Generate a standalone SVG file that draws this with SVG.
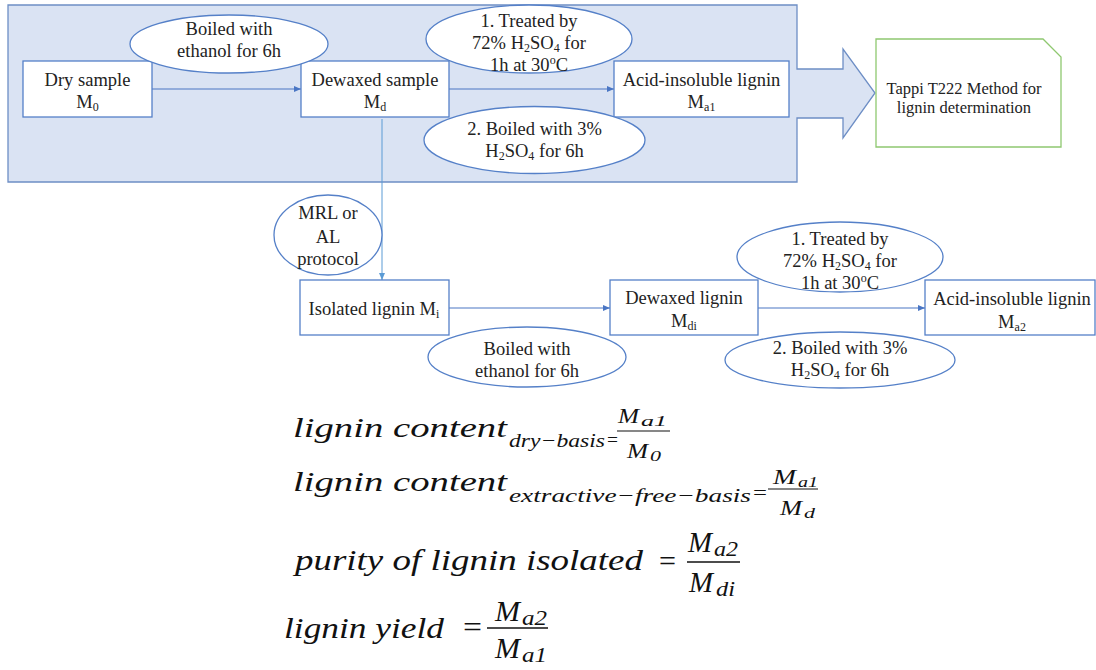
<svg xmlns="http://www.w3.org/2000/svg" width="1096" height="670" viewBox="0 0 1096 670">
<style>
.box{fill:#fff;stroke:#5580c8;stroke-width:1.3}
.ell{fill:#fff;stroke:#5580c8;stroke-width:1.3}
.t{font-family:"Liberation Serif","Times New Roman",serif;font-size:18.5px;fill:#222;text-anchor:middle}
.s{font-size:12px}
.conn{stroke:#4a76c4;stroke-width:1.2;fill:none}
.f{font-family:"Liberation Serif","Times New Roman",serif;font-style:italic;fill:#111}
.eq{font-family:"Liberation Serif","Times New Roman",serif;fill:#111}
.bar{stroke:#111}
</style>
<defs>
<marker id="ah" markerUnits="userSpaceOnUse" markerWidth="8" markerHeight="7" refX="7" refY="3" orient="auto">
<path d="M0,0 L7,3 L0,6 z" fill="#4a76c4"/>
</marker>
<marker id="ah2" markerUnits="userSpaceOnUse" markerWidth="8" markerHeight="7" refX="7" refY="3" orient="auto">
<path d="M0,0 L7,3 L0,6 z" fill="#5b9bd5"/>
</marker>
</defs>

<g id="panel">
<path d="M8,5 H797 V69 H843 V49 L875,93 L843,138 V118 H797 V182 H8 Z" fill="#dae3f3" stroke="#6d8ec5" stroke-width="1.3"/>
</g>

<g id="connectors">
<line class="conn" x1="152" y1="89" x2="301" y2="89" marker-end="url(#ah)"/>
<line class="conn" x1="449" y1="89" x2="614" y2="89" marker-end="url(#ah)"/>
<line x1="382" y1="119" x2="382" y2="280" stroke="#5b9bd5" stroke-width="1" marker-end="url(#ah2)"/>
<line class="conn" x1="449" y1="308" x2="610" y2="308" marker-end="url(#ah)"/>
<line class="conn" x1="758" y1="308" x2="925" y2="308" marker-end="url(#ah)"/>
</g>

<g id="tappi">
<path d="M876,39 H1043 L1061,57 V147 H876 Z" fill="#fff" stroke="#8fc870" stroke-width="1.3"/>
<text class="t" x="964" y="94" style="font-size:16.5px">Tappi T222 Method for</text>
<text class="t" x="964" y="113" style="font-size:16.5px">lignin determination</text>
</g>

<g id="dry-sample">
<rect class="box" x="23" y="61" width="129" height="56"/>
<text class="t" x="87.5" y="86">Dry sample</text>
<text class="t" x="87.5" y="108">M<tspan class="s" dy="3">0</tspan></text>
</g>

<g id="dewaxed-sample">
<rect class="box" x="301" y="61" width="148" height="56"/>
<text class="t" x="375" y="86">Dewaxed sample</text>
<text class="t" x="375" y="108">M<tspan class="s" dy="3">d</tspan></text>
</g>

<g id="acid-insoluble-1">
<rect class="box" x="614" y="61" width="175" height="56"/>
<text class="t" x="701.5" y="86">Acid-insoluble lignin</text>
<text class="t" x="701.5" y="108">M<tspan class="s" dy="3">a1</tspan></text>
</g>

<g id="ell-ethanol-1">
<ellipse class="ell" cx="229" cy="44" rx="99" ry="29"/>
<text class="t" x="229" y="35">Boiled with</text>
<text class="t" x="229" y="57">ethanol for 6h</text>
</g>

<g id="ell-treated-1">
<ellipse class="ell" cx="529" cy="39" rx="103" ry="34"/>
<text class="t" x="529" y="27">1. Treated by</text>
<text class="t" x="529" y="48.5">72% H<tspan class="s" dy="3">2</tspan><tspan dy="-3">SO</tspan><tspan class="s" dy="3">4</tspan><tspan dy="-3"> for</tspan></text>
<text class="t" x="529" y="71">1h at 30<tspan class="s" dy="-7">o</tspan><tspan dy="7">C</tspan></text>
</g>

<g id="ell-boiled-1">
<ellipse class="ell" cx="534.5" cy="140" rx="110.5" ry="33.5"/>
<text class="t" x="534.5" y="135">2. Boiled with 3%</text>
<text class="t" x="534.5" y="157">H<tspan class="s" dy="3">2</tspan><tspan dy="-3">SO</tspan><tspan class="s" dy="3">4</tspan><tspan dy="-3"> for 6h</tspan></text>
</g>

<g id="ell-protocol">
<ellipse class="ell" cx="328" cy="235" rx="54" ry="40"/>
<text class="t" x="328" y="219">MRL or</text>
<text class="t" x="328" y="243">AL</text>
<text class="t" x="328" y="265">protocol</text>
</g>

<g id="isolated-lignin">
<rect class="box" x="300" y="280" width="149" height="55"/>
<text class="t" x="374" y="315">Isolated lignin M<tspan class="s" dy="3">i</tspan></text>
</g>

<g id="dewaxed-lignin">
<rect class="box" x="610" y="280" width="148" height="55"/>
<text class="t" x="684" y="304">Dewaxed lignin</text>
<text class="t" x="684" y="327">M<tspan class="s" dy="3">di</tspan></text>
</g>

<g id="acid-insoluble-2">
<rect class="box" x="925" y="280" width="170" height="55"/>
<text class="t" x="1012" y="305">Acid-insoluble lignin</text>
<text class="t" x="1012" y="328">M<tspan class="s" dy="3">a2</tspan></text>
</g>

<g id="ell-ethanol-2">
<ellipse class="ell" cx="527" cy="357" rx="99" ry="30"/>
<text class="t" x="527" y="355">Boiled with</text>
<text class="t" x="527" y="377">ethanol for 6h</text>
</g>

<g id="ell-treated-2">
<ellipse class="ell" cx="840" cy="257" rx="103" ry="35"/>
<text class="t" x="840" y="245">1. Treated by</text>
<text class="t" x="840" y="267">72% H<tspan class="s" dy="3">2</tspan><tspan dy="-3">SO</tspan><tspan class="s" dy="3">4</tspan><tspan dy="-3"> for</tspan></text>
<text class="t" x="840" y="288.5">1h at 30<tspan class="s" dy="-7">o</tspan><tspan dy="7">C</tspan></text>
</g>

<g id="ell-boiled-2">
<ellipse class="ell" cx="840" cy="360" rx="115" ry="28"/>
<text class="t" x="840" y="353.5">2. Boiled with 3%</text>
<text class="t" x="840" y="376">H<tspan class="s" dy="3">2</tspan><tspan dy="-3">SO</tspan><tspan class="s" dy="3">4</tspan><tspan dy="-3"> for 6h</tspan></text>
</g>

<g id="formulas">
<text class="f" x="293" y="437" font-size="27" textLength="214" lengthAdjust="spacingAndGlyphs">lignin content</text>
<text class="f" x="509" y="447" font-size="19" textLength="96" lengthAdjust="spacingAndGlyphs">dry−basis</text>
<text class="eq" x="607" y="446" font-size="19" textLength="11" lengthAdjust="spacingAndGlyphs">=</text>
<text class="f" x="618" y="423" font-size="20" textLength="21" lengthAdjust="spacingAndGlyphs">M</text>
<text class="f" x="641" y="426" font-size="15" textLength="26" lengthAdjust="spacingAndGlyphs">a1</text>
<line class="bar" x1="617" y1="431" x2="670" y2="431" stroke-width="1.2"/>
<text class="f" x="627" y="458" font-size="20" textLength="21" lengthAdjust="spacingAndGlyphs">M</text>
<text class="f" x="650" y="461" font-size="15" textLength="11" lengthAdjust="spacingAndGlyphs">0</text>

<text class="f" x="293" y="491" font-size="27" textLength="214" lengthAdjust="spacingAndGlyphs">lignin content</text>
<text class="f" x="509" y="502" font-size="19" textLength="242" lengthAdjust="spacingAndGlyphs">extractive−free−basis</text>
<text class="eq" x="753" y="499" font-size="19" textLength="14" lengthAdjust="spacingAndGlyphs">=</text>
<text class="f" x="773" y="484" font-size="20" textLength="23" lengthAdjust="spacingAndGlyphs">M</text>
<text class="f" x="798" y="487" font-size="15" textLength="20" lengthAdjust="spacingAndGlyphs">a1</text>
<line class="bar" x1="768" y1="489" x2="818" y2="489" stroke-width="1.2"/>
<text class="f" x="780" y="515" font-size="20" textLength="22" lengthAdjust="spacingAndGlyphs">M</text>
<text class="f" x="804" y="518" font-size="15" textLength="11" lengthAdjust="spacingAndGlyphs">d</text>

<text class="f" x="295" y="570" font-size="30" textLength="348" lengthAdjust="spacingAndGlyphs">purity of lignin isolated</text>
<text class="eq" x="659" y="571" font-size="30" textLength="17" lengthAdjust="spacingAndGlyphs">=</text>
<text class="f" x="688" y="552" font-size="30" textLength="24" lengthAdjust="spacingAndGlyphs">M</text>
<text class="f" x="714" y="556" font-size="22" textLength="24" lengthAdjust="spacingAndGlyphs">a2</text>
<line class="bar" x1="687" y1="562" x2="740" y2="562" stroke-width="1.5"/>
<text class="f" x="689" y="592" font-size="30" textLength="24" lengthAdjust="spacingAndGlyphs">M</text>
<text class="f" x="716" y="596" font-size="22" textLength="19" lengthAdjust="spacingAndGlyphs">di</text>

<text class="f" x="284" y="638" font-size="30" textLength="160" lengthAdjust="spacingAndGlyphs">lignin yield</text>
<text class="eq" x="463" y="637" font-size="30" textLength="19" lengthAdjust="spacingAndGlyphs">=</text>
<text class="f" x="495" y="621" font-size="30" textLength="25" lengthAdjust="spacingAndGlyphs">M</text>
<text class="f" x="522" y="625" font-size="22" textLength="25" lengthAdjust="spacingAndGlyphs">a2</text>
<line class="bar" x1="487" y1="628" x2="548" y2="628" stroke-width="1.5"/>
<text class="f" x="495" y="658" font-size="30" textLength="25" lengthAdjust="spacingAndGlyphs">M</text>
<text class="f" x="522" y="662" font-size="22" textLength="25" lengthAdjust="spacingAndGlyphs">a1</text>
</g>
</svg>
